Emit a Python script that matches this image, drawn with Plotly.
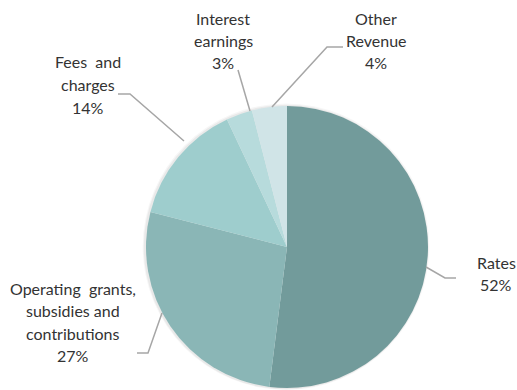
import plotly.graph_objects as go

# Revenue sources and their share (%)
labels = ["Rates", "Operating grants, subsidies and contributions",
          "Fees and charges", "Interest earnings", "Other Revenue"]
shares = [52, 27, 14, 3, 4]
label_lines = [
    ["Rates", "52%"],
    ["Operating  grants,", "subsidies and", "contributions", "27%"],
    ["Fees  and", "charges", "14%"],
    ["Interest", "earnings", "3%"],
    ["Other", "Revenue", "4%"],
]
colors = ["#729b9b", "#8ab6b6", "#9ecdcd", "#b7dbdc", "#d0e4e7"]

W, H = 517, 390
CX, CY, R = 287, 247, 141
LINE_GAP = 22.5


def px(x, y):
    return x / W, 1 - y / H


def pie_domain(cx, cy, r):
    clamp = lambda v: min(1.0, max(0.0, v))
    return dict(x=[clamp((cx - r) / W), clamp((cx + r) / W)],
                y=[clamp((H - cy - r) / H), clamp((H - cy + r) / H)])


fig = go.Figure()

# soft drop shadow beneath the pie
for grow, alpha in [(2.6, 0.035), (1.3, 0.05)]:
    fig.add_trace(go.Pie(
        values=[sum(shares)], sort=False, textinfo="none", showlegend=False,
        hoverinfo="skip", marker=dict(colors=[f"rgba(0,0,0,{alpha})"], line=dict(width=0)),
        domain=pie_domain(CX - 1, CY, R + grow),
    ))

fig.add_trace(go.Pie(
    labels=labels, values=shares, sort=False, direction="clockwise", rotation=0,
    marker=dict(colors=colors, line=dict(width=0)),
    textinfo="none", showlegend=False, hoverinfo="label+percent",
    domain=pie_domain(CX, CY, R),
))

# label placements (centre of first text line) and leader-line paths
label_pos = [(496, 262), (73, 288), (88, 62), (223, 18), (376, 18)]
leaders = [
    [(426, 267), (445, 278), (456, 278)],
    [(162, 313), (148, 353), (137, 353)],
    [(184, 141), (130, 94), (118, 94)],
    [(250, 111), (238, 70)],
    [(272, 107), (327, 47), (343, 47)],
]

for lines, (x, y) in zip(label_lines, label_pos):
    for i, line in enumerate(lines):
        ax, ay = px(x, y + i * LINE_GAP)
        fig.add_annotation(x=ax, y=ay, xref="paper", yref="paper", text=line,
                           showarrow=False, xanchor="center", yanchor="middle",
                           font=dict(family="Lato", size=16, color="#333333"))

for path in leaders:
    pts = [px(x, y) for x, y in path]
    d = "M " + " L ".join(f"{a},{b}" for a, b in pts)
    fig.add_shape(type="path", path=d, xref="paper", yref="paper",
                  line=dict(color="#a6a6a6", width=1.5))

fig.update_layout(width=W, height=H, margin=dict(l=0, r=0, t=0, b=0),
                  paper_bgcolor="white", plot_bgcolor="white")
fig.write_html("out.html")
